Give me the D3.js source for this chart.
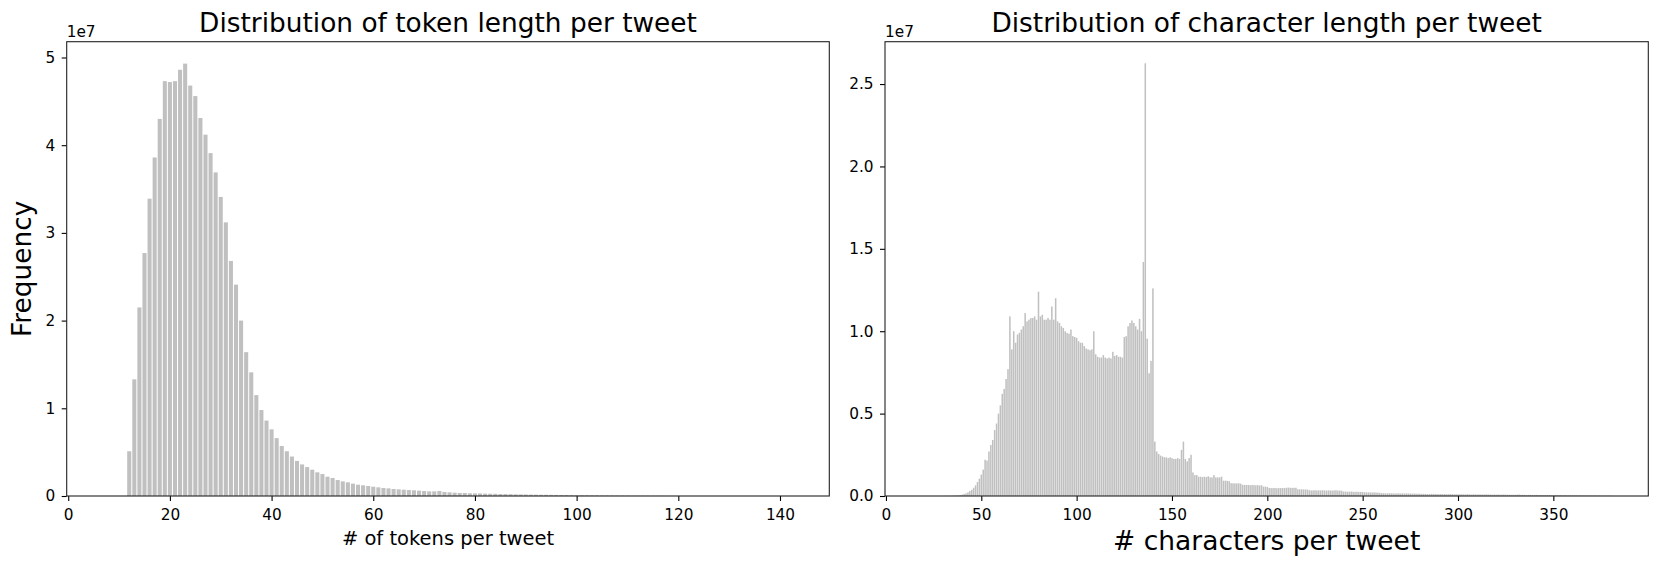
<!DOCTYPE html>
<html lang="en">
<head>
<meta charset="utf-8">
<title>Tweet length distributions</title>
<script src="https://d3js.org/d3.v7.js"></script>
<style>
  body { margin: 0; background: white; }
  text { font-family: "DejaVu Sans", sans-serif; fill: black; }
</style>
</head>
<body>
<script>
// counts in units of 1e7, one bar per integer length
const tokenStart = 12;
const tokenFreq = [
  0.51, 1.33, 2.15, 2.77, 3.39, 3.86, 4.30, 4.73, 4.72, 4.73,
  4.86, 4.93, 4.68, 4.56, 4.31, 4.12, 3.91, 3.69, 3.41, 3.12,
  2.68, 2.41, 2.00, 1.64, 1.41, 1.15, 0.98, 0.86, 0.76, 0.66,
  0.57, 0.51, 0.45, 0.40, 0.36, 0.33, 0.30, 0.27, 0.25, 0.22,
  0.205, 0.182, 0.167, 0.156, 0.141, 0.129, 0.122, 0.114, 0.106, 0.099,
  0.091, 0.087, 0.080, 0.076, 0.072, 0.068, 0.065, 0.061, 0.057, 0.053,
  0.053, 0.057, 0.046, 0.042, 0.038, 0.035, 0.034, 0.031, 0.030, 0.029,
  0.027, 0.026, 0.025, 0.023, 0.022, 0.021, 0.019, 0.018, 0.017, 0.016,
  0.015, 0.014, 0.014, 0.013, 0.012, 0.011, 0.011, 0.010, 0.009, 0.009,
  0.008, 0.007, 0.007, 0.006, 0.006, 0.005, 0.005, 0.004, 0.004, 0.003,
  0.003, 0.003, 0.002, 0.002, 0.002, 0.002, 0.001, 0.001, 0.001
];

const charStart = 30;
const charFreq = [
  0.0005, 0.0005, 0.001, 0.001, 0.001, 0.002, 0.002, 0.003, 0.004, 0.006,
  0.008, 0.012, 0.016, 0.022, 0.030, 0.038, 0.050, 0.065, 0.085, 0.105,
  0.130, 0.160, 0.220, 0.215, 0.270, 0.310, 0.340, 0.400, 0.440, 0.500,
  0.550, 0.620, 0.650, 0.710, 0.770, 1.090, 0.890, 1.000, 0.930, 0.980,
  0.990, 1.010, 1.030, 1.110, 1.060, 1.070, 1.080, 1.080, 1.090, 1.070,
  1.240, 1.090, 1.100, 1.070, 1.070, 1.080, 1.070, 1.150, 1.070, 1.200,
  1.060, 1.050, 1.030, 1.020, 1.000, 0.990, 0.985, 1.010, 0.970, 0.965,
  0.960, 0.940, 0.930, 0.930, 0.910, 0.895, 0.890, 0.885, 0.890, 1.000,
  0.860, 0.845, 0.840, 0.840, 0.855, 0.840, 0.835, 0.840, 0.835, 0.875,
  0.850, 0.855, 0.845, 0.845, 0.840, 0.965, 0.970, 1.030, 1.050, 1.065,
  1.050, 1.030, 1.010, 1.075, 1.000, 1.420, 2.626, 0.955, 0.745, 0.820,
  1.260, 0.330, 0.270, 0.255, 0.245, 0.240, 0.235, 0.235, 0.230, 0.235,
  0.230, 0.225, 0.225, 0.230, 0.225, 0.280, 0.330, 0.225, 0.210, 0.230,
  0.250, 0.143, 0.127, 0.127, 0.117, 0.117, 0.115, 0.117, 0.115, 0.120,
  0.113, 0.113, 0.127, 0.113, 0.113, 0.113, 0.117, 0.093, 0.093, 0.092,
  0.090, 0.078, 0.077, 0.077, 0.076, 0.077, 0.075, 0.068, 0.067, 0.067,
  0.067, 0.066, 0.067, 0.066, 0.065, 0.066, 0.064, 0.065, 0.057, 0.057,
  0.055, 0.049, 0.048, 0.048, 0.049, 0.047, 0.048, 0.048, 0.049, 0.048,
  0.050, 0.051, 0.050, 0.049, 0.050, 0.050, 0.041, 0.040, 0.041, 0.040,
  0.040, 0.039, 0.035, 0.034, 0.034, 0.035, 0.034, 0.034, 0.034, 0.035,
  0.034, 0.033, 0.034, 0.034, 0.033, 0.034, 0.035, 0.033, 0.033, 0.032,
  0.027, 0.027, 0.026, 0.026, 0.027, 0.026, 0.025, 0.026, 0.025, 0.025,
  0.024, 0.023, 0.022, 0.022, 0.022, 0.021, 0.022, 0.021, 0.020, 0.019,
  0.017, 0.017, 0.016, 0.016, 0.017, 0.016, 0.016, 0.015, 0.016, 0.016,
  0.015, 0.016, 0.015, 0.016, 0.015, 0.015, 0.014, 0.015, 0.014, 0.014,
  0.014, 0.013, 0.013, 0.013, 0.012, 0.012, 0.013, 0.012, 0.012, 0.012,
  0.011, 0.012, 0.011, 0.012, 0.011, 0.011, 0.012, 0.011, 0.010, 0.011,
  0.010, 0.011, 0.010, 0.010, 0.010, 0.011, 0.010, 0.009, 0.010, 0.010,
  0.009, 0.010, 0.009, 0.009, 0.009, 0.010, 0.009, 0.009, 0.008, 0.009,
  0.008, 0.009, 0.008, 0.008, 0.009, 0.008, 0.008, 0.008, 0.007, 0.008,
  0.007, 0.008, 0.009, 0.007, 0.007, 0.007, 0.006, 0.007, 0.007, 0.006,
  0.006, 0.007, 0.006, 0.006, 0.006, 0.005, 0.006, 0.005, 0.006, 0.005,
  0.005, 0.005, 0.006, 0.005, 0.005, 0.004, 0.005, 0.004, 0.004, 0.004,
  0.004, 0.004, 0.004, 0.003, 0.004, 0.003, 0.003, 0.003, 0.003, 0.003,
  0.003, 0.003, 0.003, 0.002, 0.003, 0.002, 0.002, 0.002, 0.002, 0.002,
  0.002, 0.001
];

const tokenXTicks = [0, 20, 40, 60, 80, 100, 120, 140];
const tokenYTicks = [0, 1, 2, 3, 4, 5];
const charXTicks = [0, 50, 100, 150, 200, 250, 300, 350];
const charYTicks = [0, 0.5, 1.0, 1.5, 2.0, 2.5];

const W = 1660, H = 568;
const barColor = "#c0c0c0";
const tickFont = 15.3;

const svg = d3.select("body")
  .append("svg")
  .attr("width", W)
  .attr("height", H);

function drawPanel(opt) {
  const xs = d3.scaleLinear().domain(opt.xDomain).range([opt.left, opt.right]);
  const ys = d3.scaleLinear().domain(opt.yDomain).range([opt.bottom, opt.top]);
  const g = svg.append("g");

  const rows = opt.values.map((v, i) => ({ k: opt.start + i, v: v }));

  g.selectAll("rect.bar")
    .data(rows)
    .enter()
    .append("rect")
    .attr("class", "bar")
    .attr("x", d => xs(d.k - 0.4))
    .attr("width", d => xs(d.k + 0.4) - xs(d.k - 0.4))
    .attr("y", d => ys(d.v))
    .attr("height", d => ys(0) - ys(d.v))
    .attr("fill", barColor);

  const xAxis = g.append("g")
    .attr("transform", `translate(0,${opt.bottom})`)
    .call(d3.axisBottom(xs).tickValues(opt.xTicks).tickSize(5).tickPadding(8).tickFormat(d3.format("d")));
  const yAxis = g.append("g")
    .attr("transform", `translate(${opt.left},0)`)
    .call(d3.axisLeft(ys).tickValues(opt.yTicks).tickSize(5).tickPadding(6.5).tickFormat(opt.yFormat));

  [xAxis, yAxis].forEach(a => {
    a.select(".domain").remove();
    a.selectAll("line").attr("stroke", "black").attr("stroke-width", 1.1);
    a.selectAll("text").attr("font-size", tickFont).attr("font-family", "DejaVu Sans");
  });

  // frame
  g.append("rect")
    .attr("x", opt.left)
    .attr("y", opt.top)
    .attr("width", opt.right - opt.left)
    .attr("height", opt.bottom - opt.top)
    .attr("fill", "none")
    .attr("stroke", "#222")
    .attr("stroke-width", 1.1);

  g.append("text")
    .attr("x", opt.left)
    .attr("y", opt.top - 5)
    .attr("font-size", tickFont)
    .text("1e7");

  g.append("text")
    .attr("x", (opt.left + opt.right) / 2)
    .attr("y", 32)
    .attr("text-anchor", "middle")
    .attr("font-size", 26.4)
    .text(opt.title);

  g.append("text")
    .attr("x", (opt.left + opt.right) / 2)
    .attr("y", opt.xLabelY)
    .attr("text-anchor", "middle")
    .attr("font-size", opt.xLabelSize)
    .text(opt.xLabel);

  if (opt.yLabel) {
    g.append("text")
      .attr("transform", `translate(31,${(opt.top + opt.bottom) / 2}) rotate(-90)`)
      .attr("text-anchor", "middle")
      .attr("font-size", 26.4)
      .text(opt.yLabel);
  }
}

drawPanel({
  left: 66.7, right: 829.3, top: 41.7, bottom: 496,
  xDomain: [-0.3, 149.7], yDomain: [0, 5.18],
  start: tokenStart, values: tokenFreq,
  xTicks: tokenXTicks, yTicks: tokenYTicks, yFormat: d3.format("d"),
  title: "Distribution of token length per tweet",
  xLabel: "# of tokens per tweet", xLabelY: 545, xLabelSize: 19.5,
  yLabel: "Frequency"
});

drawPanel({
  left: 885, right: 1648.3, top: 41.7, bottom: 496,
  xDomain: [-0.5, 399.8], yDomain: [0, 2.757],
  start: charStart, values: charFreq,
  xTicks: charXTicks, yTicks: charYTicks, yFormat: d3.format(".1f"),
  title: "Distribution of character length per tweet",
  xLabel: "# characters per tweet", xLabelY: 550, xLabelSize: 26.5
});
</script>
</body>
</html>
